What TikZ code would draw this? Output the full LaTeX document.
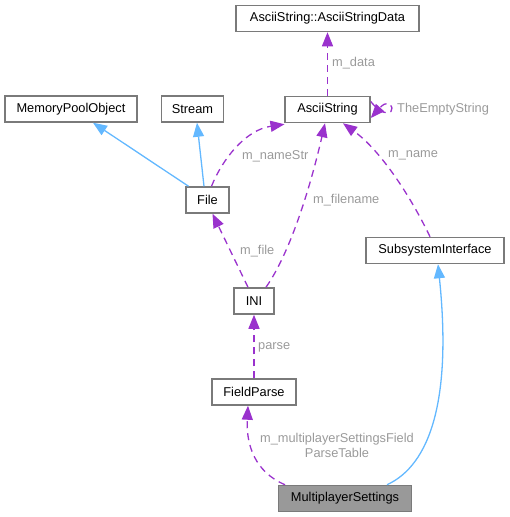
\documentclass[tikz,border=0pt]{standalone}
\usepackage{fontspec}
\setmainfont{Liberation Sans}
\usetikzlibrary{arrows.meta}
\definecolor{boxborder}{HTML}{7A7A7A}
\definecolor{depcol}{HTML}{9A32CD}
\definecolor{inhcol}{HTML}{63B8FF}
\definecolor{lblcol}{HTML}{9A9A9A}
\definecolor{msfill}{HTML}{999999}
\tikzset{
  cls/.style={draw=boxborder, line width=1.5pt, fill=white, minimum height=26pt, inner sep=0pt, font=\fontsize{12.8}{14}\selectfont},
  dep/.style={draw=depcol, line width=1.3pt, dash pattern=on 7pt off 5pt, -{Triangle[length=14pt,width=11pt,fill=depcol]}},
  inh/.style={draw=inhcol, line width=1.3pt, -{Triangle[length=14pt,width=11pt,fill=inhcol]}},
  lbl/.style={text=lblcol, inner sep=0pt, font=\fontsize{12.8}{15}\selectfont},
}
\begin{document}
\begin{tikzpicture}[x=1pt,y=-1pt]
\useasboundingbox (0,0) rectangle (510,517);
% nodes
\node[cls, minimum width=183pt] (data) at (327.5,18.5) {AsciiString::AsciiStringData};
\node[cls, minimum width=132pt] (mpo) at (71,109) {MemoryPoolObject};
\node[cls, minimum width=62pt] (stream) at (192.5,109) {Stream};
\node[cls, minimum width=85pt] (ascii) at (327.5,109.5) {AsciiString};
\node[cls, minimum width=43pt] (file) at (207.5,200) {File};
\node[cls, minimum width=138pt] (subsys) at (435,250.5) {SubsystemInterface};
\node[cls, minimum width=40pt] (ini) at (254,301) {INI};
\node[cls, minimum width=84pt] (fp) at (254,392) {FieldParse};
\node[cls, minimum width=133pt, fill=msfill] (ms) at (345,498.5) {MultiplayerSettings};
% inheritance
\draw[inh] ([xshift=-19pt]file.north) -- ([xshift=22pt]mpo.south);
\draw[inh] ([xshift=-3.5pt]file.north) -- ([xshift=4.5pt]stream.south);
\draw[inh] ([xshift=42pt]ms.north) .. controls (430,465) and (452,400) .. ([xshift=3pt]subsys.south);
% dependencies
\draw[dep] (ascii.north) -- (data.south);
\draw[dep] ([yshift=8pt]ascii.east) .. controls (384,118) and (393,113) .. (392,108) .. controls (391,103) and (386,101) .. ([yshift=-8.5pt]ascii.east);
\draw[dep] ([xshift=4pt]file.north) .. controls (222,160) and (245,130) .. ([xshift=-43pt,yshift=-1pt]ascii.south);
\draw[dep] ([xshift=-6pt]ini.north) -- ([xshift=5pt]file.south);
\draw[dep] ([xshift=12pt]ini.north) .. controls (292,250) and (312,180) .. ([xshift=-2.5pt]ascii.south);
\draw[dep] ([xshift=-5pt]subsys.north) .. controls (410,195) and (380,150) .. ([xshift=15.5pt]ascii.south);
\draw[dep] (fp.north) -- (ini.south);
\draw[dep] ([xshift=-60pt]ms.north) .. controls (255,472) and (246,445) .. ([xshift=-6pt]fp.south);
% labels
\node[lbl, anchor=west] (l1) at (332,63) {m\_data};
\node[lbl, anchor=west] (l2) at (397,109) {TheEmptyString};
\node[lbl, anchor=west] (l3) at (242,156) {m\_nameStr};
\node[lbl, anchor=west] (l4) at (313,200) {m\_filename};
\node[lbl, anchor=west] (l5) at (388,155) {m\_name};
\node[lbl, anchor=west] (l6) at (240,251) {m\_file};
\node[lbl, anchor=west] (l7) at (258,347) {parse};
\node[lbl, align=center] (l8) at (337,445) {m\_multiplayerSettingsField\\ParseTable};
\end{tikzpicture}
\end{document}
